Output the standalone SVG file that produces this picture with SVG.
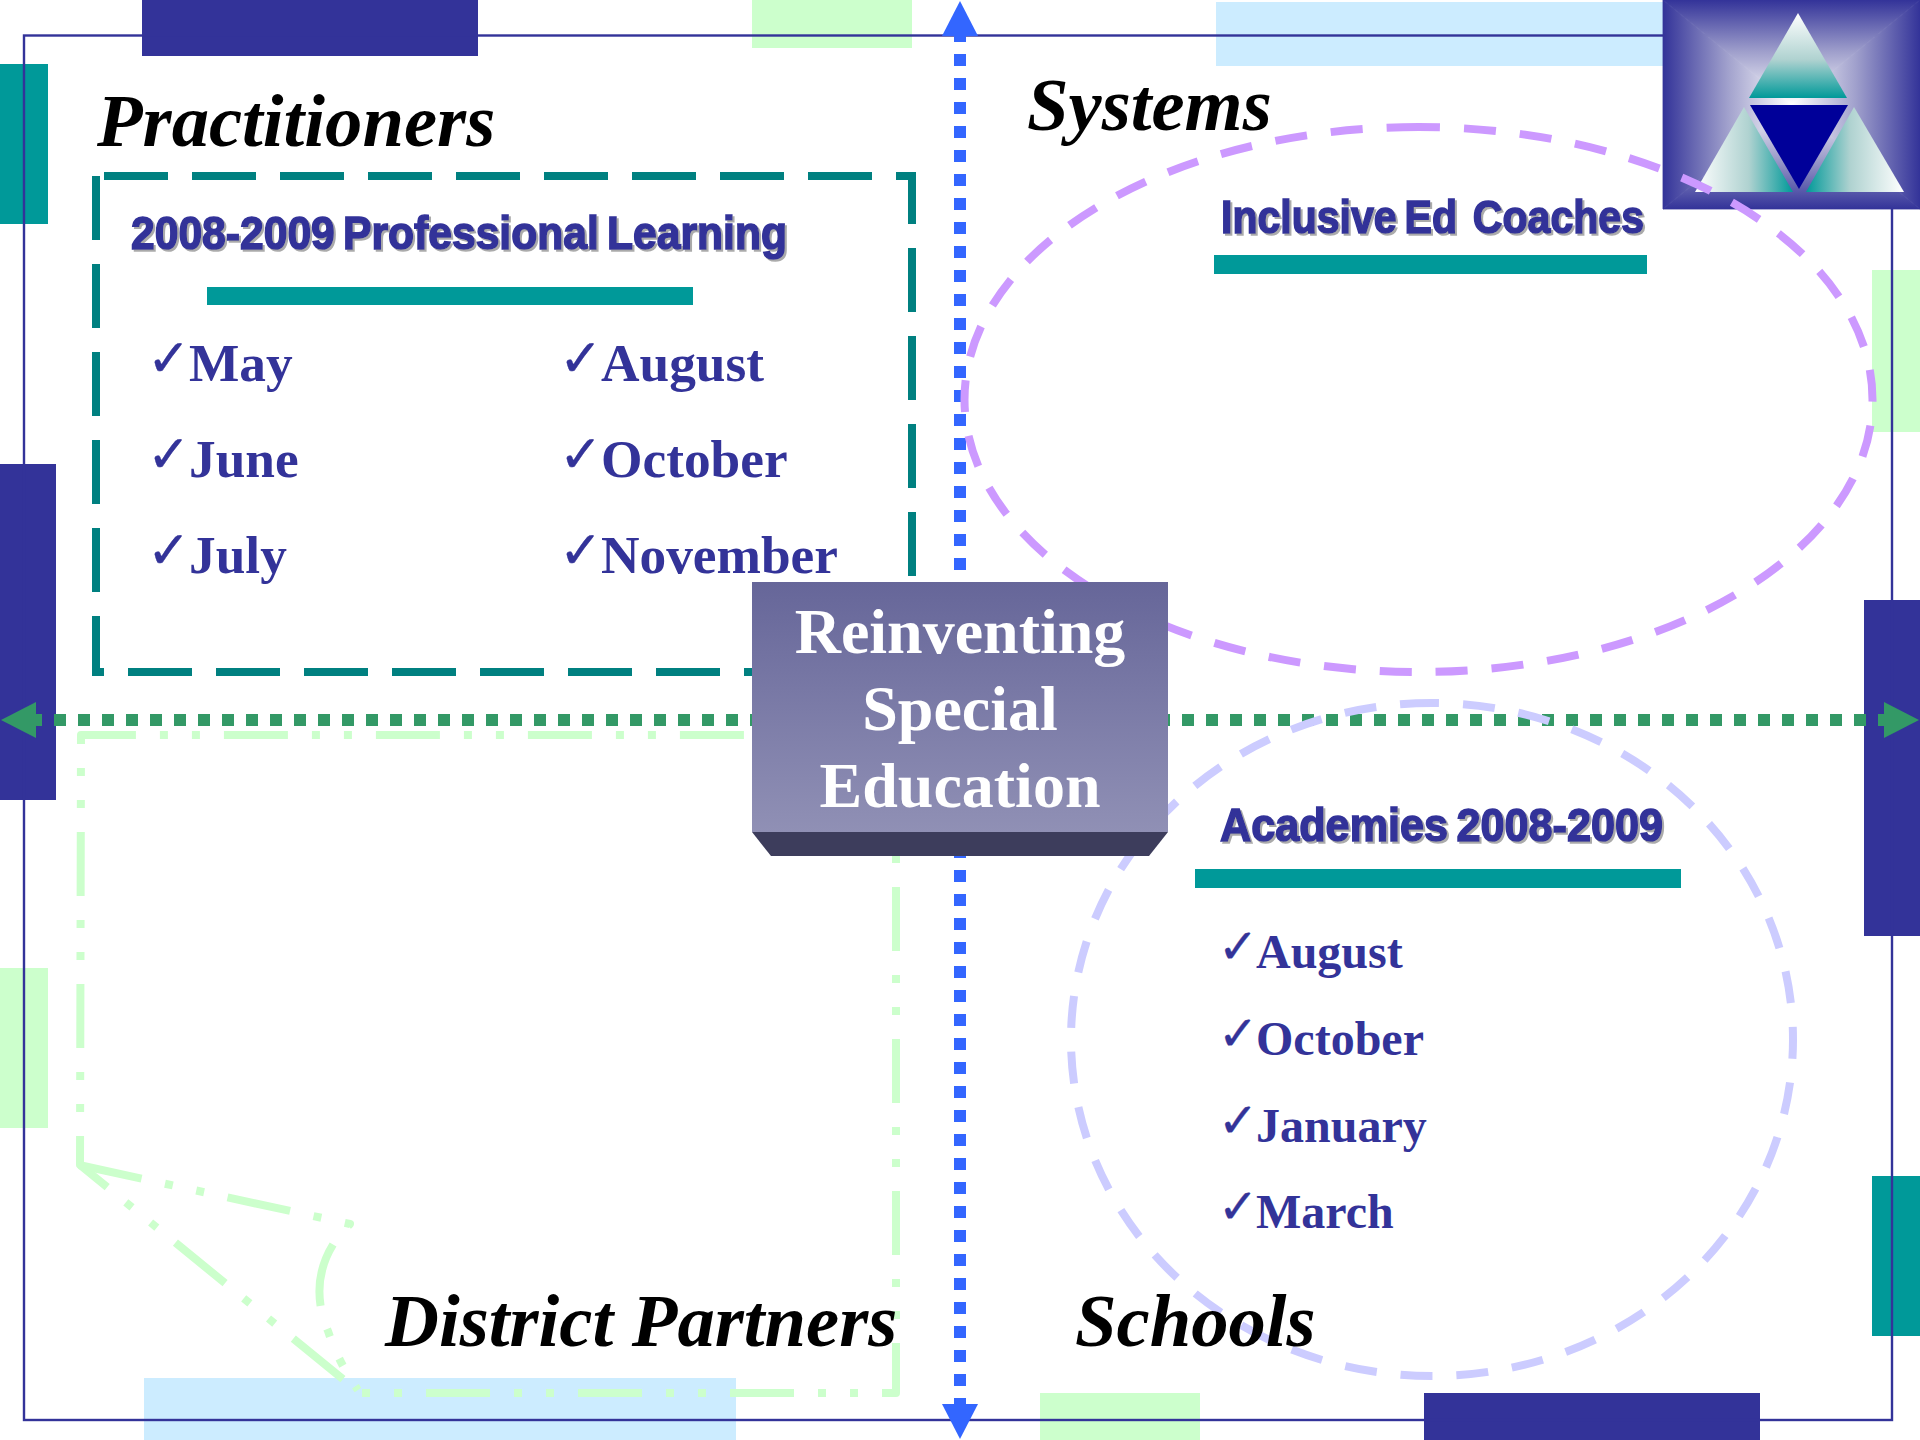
<svg xmlns="http://www.w3.org/2000/svg" width="1920" height="1440" viewBox="0 0 1920 1440">
<style>
.navy{fill:#333399}.teal{fill:#009999}.lg{fill:#CCFFCC}.lb{fill:#CCECFF}
.title{font-family:"Liberation Serif",serif;font-weight:bold;font-style:italic;font-size:74.67px;fill:#000}
.head{font-family:"Liberation Sans",Arial,sans-serif;font-weight:bold;font-size:47px;fill:#333399;stroke:#333399;stroke-width:1.6;filter:url(#sh);white-space:pre;word-spacing:-4px}
.big{font-family:"Liberation Serif",serif;font-weight:bold;font-size:53.33px;fill:#333399}
.small{font-family:"Liberation Serif",serif;font-weight:bold;font-size:48px;fill:#333399}
.ck{font-family:"DejaVu Sans",sans-serif;fill:#333399;stroke:#333399;stroke-width:.4}
.ctr{font-family:"Liberation Serif",serif;font-weight:bold;font-size:64px;fill:#fff;text-anchor:middle}
.axis{fill:none;stroke-width:12;stroke-dasharray:12 12;stroke-dashoffset:6}
.bg{stroke-width:.8}
</style>
<defs>
<filter id="sh" x="-5%" y="-20%" width="110%" height="140%"><feDropShadow dx="2" dy="2" stdDeviation="0.6" flood-color="#aaaaaa"/></filter>
<marker id="ab" markerUnits="userSpaceOnUse" markerWidth="36" markerHeight="36" refX="0" refY="18" orient="auto-start-reverse"><path d="M0 0L35 18L0 36Z" fill="#3366FF"/></marker>
<marker id="ag" markerUnits="userSpaceOnUse" markerWidth="36" markerHeight="36" refX="0" refY="18" orient="auto-start-reverse"><path d="M0 0L35 18L0 36Z" fill="#339966"/></marker>
<linearGradient id="bt" gradientUnits="userSpaceOnUse" x1="0" y1="0" x2="0" y2="104.5"><stop offset="0" stop-color="#333399"/><stop offset=".5" stop-color="#A0A0CC"/><stop offset="1" stop-color="#fff"/></linearGradient>
<linearGradient id="bb" gradientUnits="userSpaceOnUse" x1="0" y1="209" x2="0" y2="104.5"><stop offset="0" stop-color="#333399"/><stop offset=".5" stop-color="#A0A0CC"/><stop offset="1" stop-color="#fff"/></linearGradient>
<linearGradient id="bl" gradientUnits="userSpaceOnUse" x1="1663" y1="0" x2="1791.5" y2="0"><stop offset="0" stop-color="#333399"/><stop offset=".5" stop-color="#A0A0CC"/><stop offset="1" stop-color="#fff"/></linearGradient>
<linearGradient id="br" gradientUnits="userSpaceOnUse" x1="1920" y1="0" x2="1791.5" y2="0"><stop offset="0" stop-color="#333399"/><stop offset=".5" stop-color="#A0A0CC"/><stop offset="1" stop-color="#fff"/></linearGradient>
<linearGradient id="tt" x1="0" y1="0" x2="0" y2="1"><stop offset="0" stop-color="#fff"/><stop offset=".55" stop-color="#AFD2D0"/><stop offset="1" stop-color="#009999"/></linearGradient>
<linearGradient id="tl" x1="0" y1="0" x2="1" y2="0"><stop offset="0" stop-color="#fff"/><stop offset=".55" stop-color="#AFD2D0"/><stop offset="1" stop-color="#009999"/></linearGradient>
<linearGradient id="tr" x1="1" y1="0" x2="0" y2="0"><stop offset="0" stop-color="#fff"/><stop offset=".55" stop-color="#AFD2D0"/><stop offset="1" stop-color="#009999"/></linearGradient>
<linearGradient id="box" x1="0" y1="0" x2="0" y2="1"><stop offset="0" stop-color="#666699"/><stop offset="1" stop-color="#9090B5"/></linearGradient>
</defs>
<rect width="1920" height="1440" fill="#fff"/>
<g id="decor">
<rect class="navy" x="142" y="0" width="336" height="56"/>
<rect class="lg" x="752" y="0" width="160" height="48"/>
<rect class="lb" x="1216" y="2" width="447" height="64"/>
<rect class="teal" x="0" y="64" width="48" height="160"/>
<rect class="navy" x="0" y="464" width="56" height="336"/>
<rect class="lg" x="0" y="968" width="48" height="160"/>
<rect class="lg" x="1872" y="270" width="48" height="162"/>
<rect class="navy" x="1864" y="600" width="56" height="336"/>
<rect class="teal" x="1872" y="1176" width="48" height="160"/>
<rect class="lb" x="144" y="1378" width="592" height="62"/>
<rect class="lg" x="1040" y="1393" width="160" height="47"/>
<rect class="navy" x="1424" y="1393" width="336" height="47"/>
<rect x="24" y="35.5" width="1868" height="1384.5" fill="none" stroke="#333399" stroke-width="2.4"/>
</g>
<g id="logo">
<path class="bg" d="M1663 0H1920L1791.5 104.5Z" fill="url(#bt)" stroke="url(#bt)"/>
<path class="bg" d="M1663 209H1920L1791.5 104.5Z" fill="url(#bb)" stroke="url(#bb)"/>
<path class="bg" d="M1663 0V209L1791.5 104.5Z" fill="url(#bl)" stroke="url(#bl)"/>
<path class="bg" d="M1920 0V209L1791.5 104.5Z" fill="url(#br)" stroke="url(#br)"/>
<path d="M1798 13L1847 98H1749Z" fill="url(#tt)"/>
<path d="M1744 107L1793 192H1695Z" fill="url(#tl)"/>
<path d="M1854 107L1904 192H1806Z" fill="url(#tr)"/>
<path d="M1750 105H1848L1799 189Z" fill="#000099"/>
</g>
<g id="connectors">
<path class="axis" d="M960 36V1404" stroke="#3366FF" marker-start="url(#ab)" marker-end="url(#ab)"/>
<path class="axis" d="M36 720H1884" stroke="#339966" marker-start="url(#ag)" marker-end="url(#ag)"/>
</g>
<g id="practitioners">
<path d="M96 176V672H912V176Z" fill="none" stroke="#008080" stroke-width="8" stroke-dasharray="64 24"/>
<text class="title" x="97" y="146">Practitioners</text>
<text class="head" x="131" y="249" textLength="656" lengthAdjust="spacingAndGlyphs">2008-2009 Professional Learning</text>
<rect class="teal" x="207" y="287" width="486" height="18"/>
<g font-size="52">
<text class="ck" x="147" y="376">✓</text><text class="big" x="189" y="381">May</text>
<text class="ck" x="147" y="472">✓</text><text class="big" x="189" y="477">June</text>
<text class="ck" x="147" y="568">✓</text><text class="big" x="189" y="573">July</text>
<text class="ck" x="559" y="376">✓</text><text class="big" x="601" y="381">August</text>
<text class="ck" x="559" y="472">✓</text><text class="big" x="601" y="477">October</text>
<text class="ck" x="559" y="568">✓</text><text class="big" x="601" y="573">November</text>
</g>
</g>
<g id="systems">
<path d="M1418.5 127A454 272.5 0 0 0 964.5 399.5A454 272.5 0 0 0 1418.5 672A454 272.5 0 0 0 1872.5 399.5A454 272.5 0 0 0 1418.5 127" fill="none" stroke="#CC99FF" stroke-width="8" stroke-dasharray="32 24"/>
<text class="title" x="1027" y="130">Systems</text>
<text class="head" x="1221" y="233" textLength="423" lengthAdjust="spacingAndGlyphs">Inclusive Ed  Coaches</text>
<rect class="teal" x="1214" y="255" width="433" height="19"/>
</g>
<g id="district-partners">
<path d="M896 735V1393H360L80 1165L81 735H896" fill="none" stroke="#CCFFCC" stroke-width="8" stroke-linejoin="round" stroke-dasharray="64 24 8 24 8 24"/>
<path d="M79 1165L350 1224C322 1250 310 1290 328 1331C335 1352 345 1372 358 1390" fill="none" stroke="#CCFFCC" stroke-width="8" stroke-linejoin="round" stroke-dasharray="64 24 8 24 8 24"/>
<text class="title" x="385" y="1346">District Partners</text>
</g>
<g id="schools">
<path d="M1432 703A361 336.5 0 0 0 1071 1039.5A361 336.5 0 0 0 1432 1376A361 336.5 0 0 0 1793 1039.5A361 336.5 0 0 0 1432 703" fill="none" stroke="#CCCCFF" stroke-width="8" stroke-dasharray="32 24"/>
<text class="title" x="1075" y="1346">Schools</text>
<text class="head" x="1220" y="841" textLength="443" lengthAdjust="spacingAndGlyphs">Academies 2008-2009</text>
<rect class="teal" x="1195" y="869" width="486" height="19"/>
<g font-size="48">
<text class="ck" x="1218" y="963">✓</text><text class="small" x="1256" y="968">August</text>
<text class="ck" x="1218" y="1050">✓</text><text class="small" x="1256" y="1055">October</text>
<text class="ck" x="1218" y="1137">✓</text><text class="small" x="1256" y="1142">January</text>
<text class="ck" x="1218" y="1223">✓</text><text class="small" x="1256" y="1228">March</text>
</g>
</g>
<g id="center">
<rect x="752" y="582" width="416" height="250" fill="url(#box)"/>
<path d="M752 832H1168L1149 856H771Z" fill="#3D3D5C"/>
<text class="ctr" x="960" y="653">Reinventing</text>
<text class="ctr" x="960" y="730">Special</text>
<text class="ctr" x="960" y="807">Education</text>
</g>
</svg>
